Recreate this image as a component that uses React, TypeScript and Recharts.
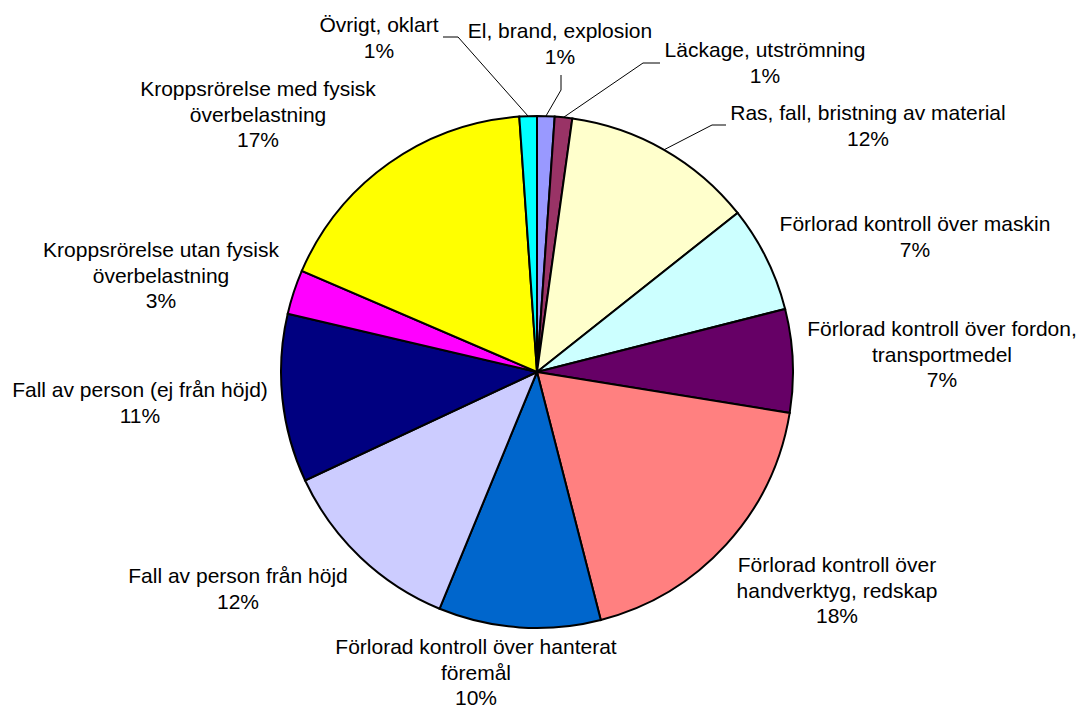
import React from 'react';
import { PieChart, Pie, Cell } from 'recharts';

// ---- data ----
const categories: string[] = [
  'El, brand, explosion',
  'Läckage, utströmning',
  'Ras, fall, bristning av material',
  'Förlorad kontroll över maskin',
  'Förlorad kontroll över fordon,\ntransportmedel',
  'Förlorad kontroll över\nhandverktyg, redskap',
  'Förlorad kontroll över hanterat\nföremål',
  'Fall av person från höjd',
  'Fall av person (ej från höjd)',
  'Kroppsrörelse utan fysisk\növerbelastning',
  'Kroppsrörelse med fysisk\növerbelastning',
  'Övrigt, oklart',
];
const shares: number[] = [1.1, 1.1, 12.1, 6.7, 6.5, 18.4, 10.2, 11.8, 10.6, 2.8, 17.4, 1.1];
const colors: string[] = [
  '#9999FF', '#993366', '#FFFFCC', '#CCFFFF', '#660066', '#FF8080',
  '#0066CC', '#CCCCFF', '#000080', '#FF00FF', '#FFFF00', '#00FFFF',
];

// ---- label layout (text centre x, first baseline y, optional leader end + elbow offset) ----
type Leader = { x: number; y: number; dx: number; dy: number };
type LabelPos = { x: number; y: number; leader?: Leader };
const labelLayout: LabelPos[] = [
  { x: 560, y: 38, leader: { x: 561, y: 75, dx: 0, dy: 15 } },
  { x: 765, y: 57, leader: { x: 660, y: 63, dx: -17, dy: 0 } },
  { x: 868, y: 120, leader: { x: 726, y: 125, dx: -14, dy: 0 } },
  { x: 915, y: 231 },
  { x: 942, y: 336 },
  { x: 837, y: 572 },
  { x: 476, y: 654 },
  { x: 238, y: 583 },
  { x: 140, y: 397 },
  { x: 161, y: 257 },
  { x: 258, y: 96 },
  { x: 379, y: 32, leader: { x: 443, y: 37, dx: 15, dy: 0 } },
];

const total = shares.reduce((a, b) => a + b, 0);
const data = categories.map((name, i) => ({ name, value: shares[i] }));

const FONT = '"Liberation Sans", Arial, sans-serif';
const LINE_H = 25.7;
const RAD = Math.PI / 180;

const renderLabel = (props: any) => {
  const { cx, cy, midAngle, outerRadius, index } = props;
  const pos = labelLayout[index];
  const pct = Math.round((shares[index] / total) * 100) + '%';
  const lines = [...categories[index].split('\n'), pct];
  let leader: React.ReactNode = null;
  if (pos.leader) {
    const sx = cx + Math.cos(-midAngle * RAD) * outerRadius;
    const sy = cy + Math.sin(-midAngle * RAD) * outerRadius;
    const ex = pos.leader.x;
    const ey = pos.leader.y;
    const mx = ex + pos.leader.dx;
    const my = ey + pos.leader.dy;
    leader = (
      <polyline
        points={`${sx},${sy} ${mx},${my} ${ex},${ey}`}
        fill="none"
        stroke="#000"
        strokeWidth={1}
      />
    );
  }
  return (
    <g key={`lbl-${index}`}>
      {leader}
      <text
        x={pos.x}
        y={pos.y}
        textAnchor="middle"
        fontFamily={FONT}
        fontSize={21}
        fill="#000"
      >
        {lines.map((l, i) => (
          <tspan key={i} x={pos.x} y={pos.y + i * LINE_H}>
            {l}
          </tspan>
        ))}
      </text>
    </g>
  );
};

export default function App() {
  return (
    <div
      style={{
        position: 'absolute',
        left: 0,
        top: 0,
        width: 1082,
        height: 709,
        background: '#fff',
      }}
    >
      <PieChart width={1082} height={709} margin={{ top: 0, right: 0, bottom: 0, left: 0 }}>
        <Pie
          data={data}
          dataKey="value"
          nameKey="name"
          cx={537}
          cy={372}
          outerRadius={256}
          innerRadius={0}
          startAngle={90}
          endAngle={-270}
          stroke="#000"
          strokeWidth={2}
          isAnimationActive={false}
          labelLine={false}
          label={renderLabel}
        >
          {data.map((d, i) => (
            <Cell key={d.name} fill={colors[i]} stroke="#000" strokeWidth={2} />
          ))}
        </Pie>
      </PieChart>
    </div>
  );
}
